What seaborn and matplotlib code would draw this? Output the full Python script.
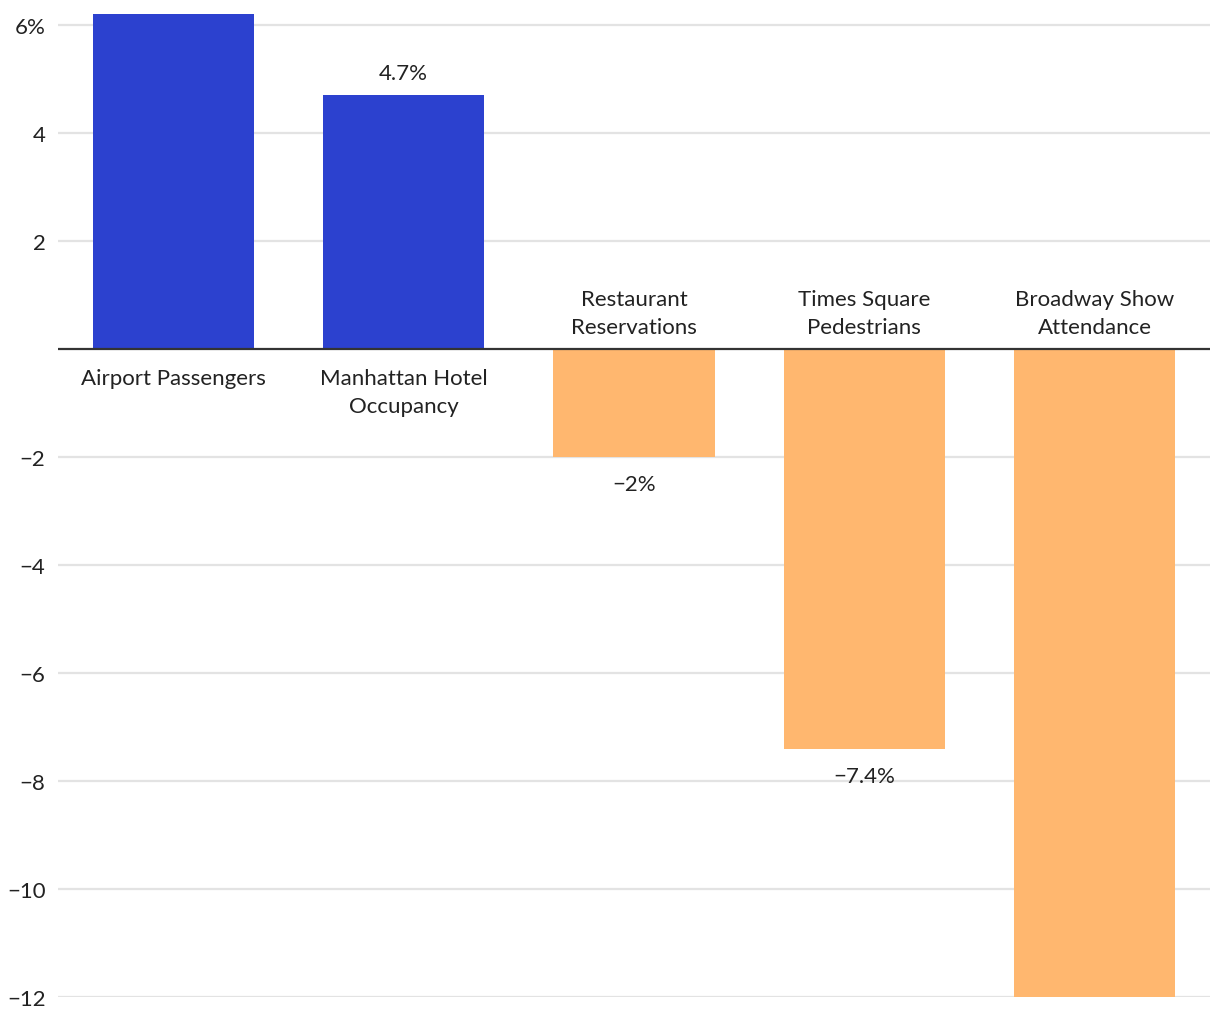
import matplotlib
matplotlib.use("Agg")
import matplotlib.pyplot as plt
import seaborn as sns
import pandas as pd

categories = ["Airport Passengers", "Manhattan Hotel\nOccupancy", "Restaurant\nReservations",
              "Times Square\nPedestrians", "Broadway Show\nAttendance"]
values = [6.2, 4.7, -2.0, -7.4, -12.0]
value_labels = [None, "4.7%", "\u22122%", "\u22127.4%", None]
yticks = [6, 4, 2, -2, -4, -6, -8, -10, -12]
ytick_labels = ["6%", "4", "2", "\u22122", "\u22124", "\u22126", "\u22128", "\u221210", "\u221212"]

sns.set_theme(style="white")
plt.rcParams['font.family'] = ['Lato', 'DejaVu Sans']
TXT = "#222222"
FS = 16

df = pd.DataFrame({"cat": categories, "val": values,
                   "sign": ["pos" if v >= 0 else "neg" for v in values]})

fig = plt.figure(figsize=(12.2, 10.2), dpi=100)
ax = fig.add_axes([58/1220, 22/1020, (1210-58)/1220, (1005-22)/1020])
sns.barplot(data=df, x="cat", y="val", hue="sign", palette={"pos": "#2C41CF", "neg": "#FFB76F"},
            dodge=False, width=0.7, legend=False, ax=ax, saturation=1, zorder=2,
            linewidth=0, edgecolor="none")
ax.set_xlim(-0.5, 4.5)
ax.set_ylim(-12, 6.2)
ax.set_yticks(yticks)
ax.set_yticklabels(ytick_labels, fontsize=FS, color=TXT)
ax.set_xticks([])
ax.set_xlabel("")
ax.set_ylabel("")
ax.tick_params(axis="y", length=0, pad=9)
for s in ax.spines.values():
    s.set_visible(False)
ax.grid(axis="y", color="#e3e3e3", linewidth=1.6, zorder=0)
ax.set_axisbelow(True)
ax.axhline(0, color="#333333", linewidth=1.6, zorder=3)

for i, (c, v, lab) in enumerate(zip(categories, values, value_labels)):
    if v >= 0:
        ax.annotate(c, xy=(i, 0), xytext=(0, -19), textcoords="offset pixels",
                    ha="center", va="top", fontsize=FS, color=TXT, linespacing=1.5)
        if lab:
            ax.annotate(lab, xy=(i, v), xytext=(0, 12), textcoords="offset pixels",
                        ha="center", va="bottom", fontsize=FS, color=TXT)
    else:
        ax.annotate(c, xy=(i, 0), xytext=(0, 12), textcoords="offset pixels",
                    ha="center", va="bottom", fontsize=FS, color=TXT, linespacing=1.5)
        if lab:
            ax.annotate(lab, xy=(i, v), xytext=(0, -17), textcoords="offset pixels",
                        ha="center", va="top", fontsize=FS, color=TXT)

fig.savefig("out.png", dpi=100)
